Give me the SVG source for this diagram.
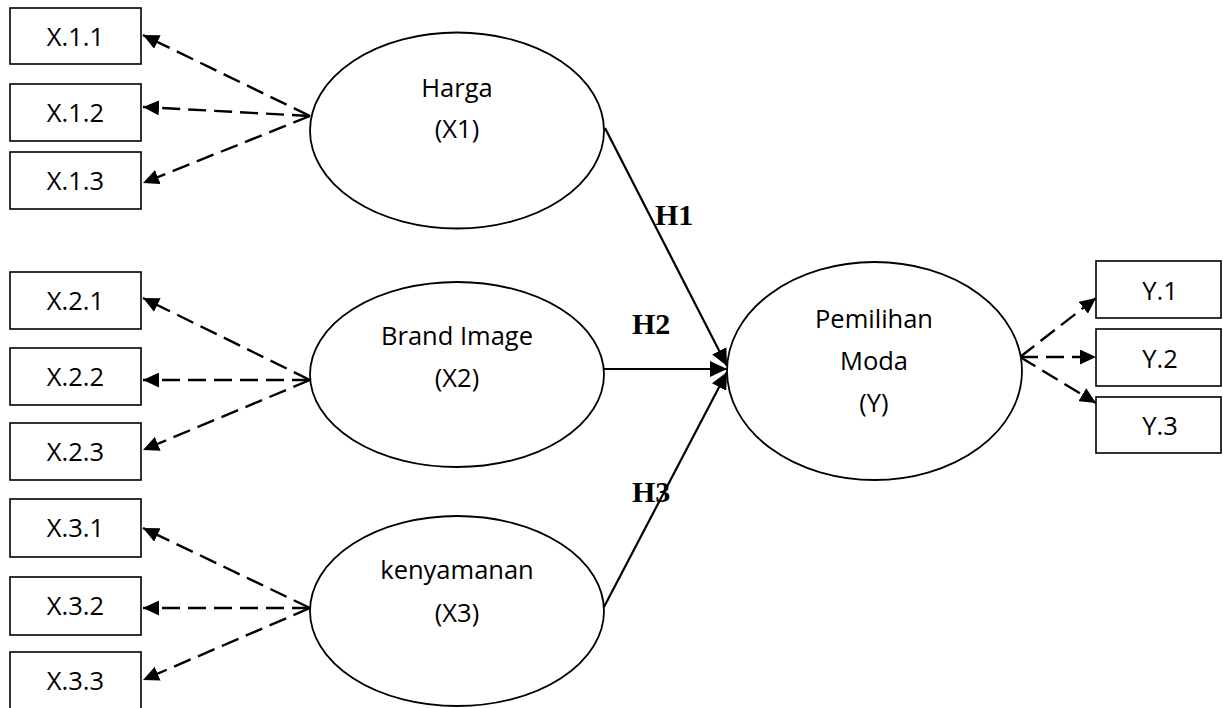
<svg xmlns="http://www.w3.org/2000/svg" width="1223" height="708" viewBox="0 0 1223 708">
<style>
.box{fill:#fff;stroke:#000;stroke-width:1.6}
.ell{fill:#fff;stroke:#000;stroke-width:1.8}
.t{font-family:"Open Sans","Liberation Sans",sans-serif;font-size:25.5px;fill:#000;text-anchor:middle}
.h{font-family:"Liberation Serif","Times New Roman",serif;font-size:30px;font-weight:bold;fill:#000}
.dash{stroke:#000;stroke-width:2.4;stroke-dasharray:18 8;fill:none}
.solid{stroke:#000;stroke-width:2.2;fill:none}
</style>
<defs>
<marker id="ah" markerUnits="userSpaceOnUse" markerWidth="17" markerHeight="15" refX="16" refY="7.5" orient="auto">
<path d="M0,0 L16,7.5 L0,15 z" fill="#000"/>
</marker>
<marker id="ahs" markerUnits="userSpaceOnUse" markerWidth="18" markerHeight="16" refX="17" refY="8" orient="auto">
<path d="M0,0 L17,8 L0,16 z" fill="#000"/>
</marker>
</defs>
<rect width="1223" height="708" fill="#fff"/>
<g id="connectors">
<line class="dash" x1="310" y1="116" x2="143" y2="35" marker-end="url(#ah)"/>
<line class="dash" x1="310" y1="116" x2="143" y2="107" marker-end="url(#ah)"/>
<line class="dash" x1="310" y1="116" x2="143" y2="183" marker-end="url(#ah)"/>
<line class="dash" x1="310" y1="380" x2="143" y2="298" marker-end="url(#ah)"/>
<line class="dash" x1="310" y1="380" x2="143" y2="380" marker-end="url(#ah)"/>
<line class="dash" x1="310" y1="380" x2="143" y2="450" marker-end="url(#ah)"/>
<line class="dash" x1="310" y1="608" x2="143" y2="528" marker-end="url(#ah)"/>
<line class="dash" x1="310" y1="608" x2="143" y2="608" marker-end="url(#ah)"/>
<line class="dash" x1="310" y1="608" x2="143" y2="680" marker-end="url(#ah)"/>
<line class="dash" x1="1020" y1="357" x2="1096" y2="298" marker-end="url(#ah)"/>
<line class="dash" x1="1020" y1="357" x2="1096" y2="357" marker-end="url(#ah)"/>
<line class="dash" x1="1020" y1="357" x2="1096" y2="403" marker-end="url(#ah)"/>
<line class="solid" x1="605" y1="128" x2="727" y2="366" marker-end="url(#ahs)"/>
<line class="solid" x1="604" y1="369" x2="727" y2="369" marker-end="url(#ahs)"/>
<line class="solid" x1="604" y1="607" x2="727" y2="372" marker-end="url(#ahs)"/>
<text class="h" x="655" y="225">H1</text>
<text class="h" x="632" y="334">H2</text>
<text class="h" x="632" y="502">H3</text>
</g>
<g id="x11"><rect class="box" x="10" y="8" width="131" height="56"/><text class="t" x="75.5" y="46">X.1.1</text></g>
<g id="x12"><rect class="box" x="10" y="84" width="131" height="57"/><text class="t" x="75.5" y="122">X.1.2</text></g>
<g id="x13"><rect class="box" x="10" y="152" width="131" height="57"/><text class="t" x="75.5" y="190">X.1.3</text></g>
<g id="x21"><rect class="box" x="10" y="272" width="131" height="57"/><text class="t" x="75.5" y="310">X.2.1</text></g>
<g id="x22"><rect class="box" x="10" y="348" width="131" height="57"/><text class="t" x="75.5" y="386">X.2.2</text></g>
<g id="x23"><rect class="box" x="10" y="423" width="131" height="57"/><text class="t" x="75.5" y="461">X.2.3</text></g>
<g id="x31"><rect class="box" x="10" y="499" width="131" height="58"/><text class="t" x="75.5" y="537">X.3.1</text></g>
<g id="x32"><rect class="box" x="10" y="577" width="131" height="58"/><text class="t" x="75.5" y="615">X.3.2</text></g>
<g id="x33"><rect class="box" x="10" y="652" width="131" height="70"/><text class="t" x="75.5" y="690">X.3.3</text></g>
<g id="y1"><rect class="box" x="1096" y="261" width="125" height="57"/><text class="t" x="1160" y="300">Y.1</text></g>
<g id="y2"><rect class="box" x="1096" y="329" width="125" height="57"/><text class="t" x="1160" y="368">Y.2</text></g>
<g id="y3"><rect class="box" x="1096" y="397" width="125" height="56"/><text class="t" x="1160" y="435">Y.3</text></g>
<g id="harga"><ellipse class="ell" cx="457" cy="130.5" rx="147" ry="98"/><text class="t" x="457" y="97">Harga</text><text class="t" x="457" y="138">(X1)</text></g>
<g id="brand"><ellipse class="ell" cx="457" cy="374.5" rx="147" ry="92.5"/><text class="t" x="457" y="345">Brand Image</text><text class="t" x="457" y="387">(X2)</text></g>
<g id="kenyamanan"><ellipse class="ell" cx="457" cy="611" rx="147" ry="95"/><text class="t" x="457" y="579">kenyamanan</text><text class="t" x="457" y="622">(X3)</text></g>
<g id="pemilihan"><ellipse class="ell" cx="874.5" cy="371" rx="147.5" ry="109"/><text class="t" x="874" y="328">Pemilihan</text><text class="t" x="874" y="370">Moda</text><text class="t" x="874" y="412">(Y)</text></g>
</svg>
